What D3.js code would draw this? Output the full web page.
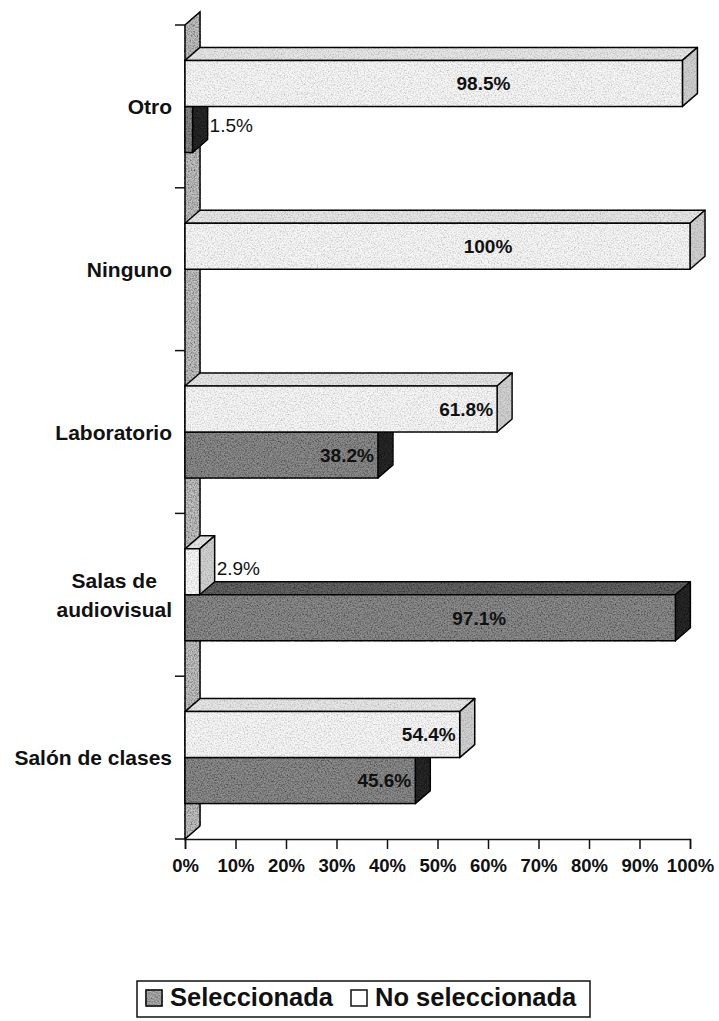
<!DOCTYPE html>
<html>
<head>
<meta charset="utf-8">
<script src="https://cdn.jsdelivr.net/npm/d3@7"></script>
<style>
  body { margin: 0; background: #fff; }
  text { font-family: "Liberation Sans", Arial, sans-serif; font-weight: bold; fill: #111; }
</style>
</head>
<body>
<div id="chart"></div>
<script>
// categories top to bottom, values in percent
const categories = ["Otro", "Ninguno", "Laboratorio", "Salas de audiovisual", "Salón de clases"];
const seleccionada = [1.5, 0, 38.2, 97.1, 45.6];
const noSeleccionada = [98.5, 100, 61.8, 2.9, 54.4];
const xTicks = [0, 10, 20, 30, 40, 50, 60, 70, 80, 90, 100];
const seriesNames = ["No seleccionada", "Seleccionada"];

const W = 719, H = 1021;
const depth = {dx: 15, dy: 13};

const styles = {
    "No seleccionada": {front: "#f6f6f6", top: "#e6e6e6", side: "#d0d0d0", grain: "grainSoft"},
    "Seleccionada": {front: "#8f8f8f", top: "#666666", side: "#2a2a2a", grain: "grain"}
};

const svg = d3.select("#chart").append("svg")
    .attr("width", W).attr("height", H);

// speckled print texture
const defs = svg.append("defs");
function makeGrain(id, k, b) {
    const f = defs.append("filter").attr("id", id)
        .attr("filterUnits", "userSpaceOnUse")
        .attr("x", 0).attr("y", 0).attr("width", W).attr("height", H);
    f.append("feTurbulence").attr("type", "fractalNoise")
        .attr("baseFrequency", 0.7).attr("numOctaves", 2).attr("seed", 7).attr("result", "noise");
    f.append("feColorMatrix").attr("in", "noise").attr("type", "matrix")
        .attr("values", `0 0 0 0 0  0 0 0 0 0  0 0 0 0 0  ${k} 0 0 0 ${b}`).attr("result", "dots");
    f.append("feComposite").attr("in", "dots").attr("in2", "SourceGraphic")
        .attr("operator", "in").attr("result", "spk");
    const m = f.append("feMerge");
    m.append("feMergeNode").attr("in", "SourceGraphic");
    m.append("feMergeNode").attr("in", "spk");
}
makeGrain("grain", 1.6, -0.55);
makeGrain("grainSoft", 1.0, -0.42);

const x = d3.scaleLinear().domain([0, 100]).range([185, 690]);
const y = d3.scaleBand().domain(categories).range([25, 839])
    .paddingInner(0.435).paddingOuter(0.2175);
const ySeries = d3.scaleBand().domain(seriesNames).range([0, y.bandwidth()]);

// left wall
const x0 = x(0), yTop = y.range()[0], yBot = y.range()[1];
svg.append("path")
    .attr("d", `M${x0},${yTop} L${x0 + depth.dx},${yTop - depth.dy} L${x0 + depth.dx},${yBot - depth.dy} L${x0},${yBot} Z`)
    .attr("fill", "#c6c6c6")
    .attr("stroke", "#111").attr("stroke-width", 1.5)
    .attr("filter", "url(#grain)");

// category ticks on the wall
const catTicks = categories.map(c => y(c) - y.step() * y.paddingOuter());
catTicks.push(yBot);
svg.append("g").selectAll("line").data(catTicks).join("line")
    .attr("x1", x0 - 10).attr("x2", x0)
    .attr("y1", d => d).attr("y2", d => d)
    .attr("stroke", "#111").attr("stroke-width", 1.5);

// x axis
const xAxis = svg.append("g")
    .attr("transform", `translate(0,${yBot})`)
    .call(d3.axisBottom(x).tickValues(xTicks).tickFormat(d => d + "%").tickSize(10).tickPadding(10));
xAxis.select(".domain").attr("stroke", "#111").attr("stroke-width", 1.5);
xAxis.selectAll(".tick line").attr("stroke", "#111").attr("stroke-width", 1.5);
xAxis.selectAll(".tick text")
    .style("font-family", "'Liberation Sans', Arial, sans-serif")
    .style("font-weight", "bold").style("font-size", "18.5px").attr("fill", "#111");

function bar3d(g, xa, xb, top, h, st) {
    const dx = depth.dx, dy = depth.dy;
    const bg = g.append("g").attr("filter", `url(#${st.grain})`)
        .attr("stroke", "#111").attr("stroke-width", 1.5).attr("stroke-linejoin", "round");
    bg.append("path")
        .attr("d", `M${xa},${top} L${xa + dx},${top - dy} L${xb + dx},${top - dy} L${xb},${top} Z`)
        .attr("fill", st.top);
    bg.append("path")
        .attr("d", `M${xb},${top} L${xb + dx},${top - dy} L${xb + dx},${top + h - dy} L${xb},${top + h} Z`)
        .attr("fill", st.side);
    bg.append("rect")
        .attr("x", xa).attr("y", top).attr("width", xb - xa).attr("height", h)
        .attr("fill", st.front);
}

const rows = categories.map((c, i) => ({
    cat: c,
    bars: [
        {series: "Seleccionada", value: seleccionada[i]},
        {series: "No seleccionada", value: noSeleccionada[i]}
    ]
}));

const barsG = svg.append("g");
const labelsG = svg.append("g");
rows.forEach(r => {
    // lower bar first so the upper bar covers its top face
    r.bars.forEach(b => {
        if (b.value <= 0) return;
        const top = y(r.cat) + ySeries(b.series);
        const h = ySeries.bandwidth();
        bar3d(barsG, x(0), x(b.value), top, h, styles[b.series]);

        const cy = top + h / 2;
        const t = labelsG.append("text")
            .style("font-size", "19px")
            .attr("dy", "0.36em")
            .text(b.value + "%");
        if (b.value < 10) {
            t.attr("x", x(b.value) + depth.dx + 2).attr("y", cy - 4)
                .attr("text-anchor", "start").style("font-weight", "normal");
        } else if (b.value > 90) {
            t.attr("x", x(b.value * 0.6)).attr("y", cy).attr("text-anchor", "middle");
        } else {
            t.attr("x", x(b.value) - 4).attr("y", cy).attr("text-anchor", "end");
        }
    });
});

// category labels
const catLines = {"Salas de audiovisual": ["Salas de", "audiovisual"]};
categories.forEach(c => {
    const lines = catLines[c] || [c];
    const cy = y(c) + y.bandwidth() / 2;
    const t = svg.append("text").style("font-size", "21px");
    lines.forEach((ln, j) => {
        t.append("tspan").attr("y", cy + (j - (lines.length - 1) / 2) * 29).attr("dy", "0.36em").text(ln);
    });
    const widths = t.selectAll("tspan").nodes().map(n => n.getComputedTextLength());
    const maxW = d3.max(widths);
    t.attr("text-anchor", "middle");
    t.selectAll("tspan").attr("x", 172 - maxW / 2);
});

// legend
const lg = svg.append("g");
lg.append("rect").attr("x", 137).attr("y", 981).attr("width", 453).attr("height", 36)
    .attr("fill", "#fff").attr("stroke", "#111").attr("stroke-width", 1.5);
const legendSwatch = {"Seleccionada": "#b0b0b0", "No seleccionada": "#ffffff"};
let lx = 146;
["Seleccionada", "No seleccionada"].forEach(name => {
    lg.append("rect").attr("x", lx).attr("y", 990).attr("width", 16).attr("height", 16)
        .attr("fill", legendSwatch[name]).attr("stroke", "#111").attr("stroke-width", 1.5)
        .attr("filter", name === "Seleccionada" ? "url(#grain)" : null);
    const t = lg.append("text").attr("x", lx + 24).attr("y", 1006)
        .style("font-size", "25.5px").text(name);
    lx = lx + 24 + t.node().getComputedTextLength() + 18;
});
</script>
</body>
</html>
